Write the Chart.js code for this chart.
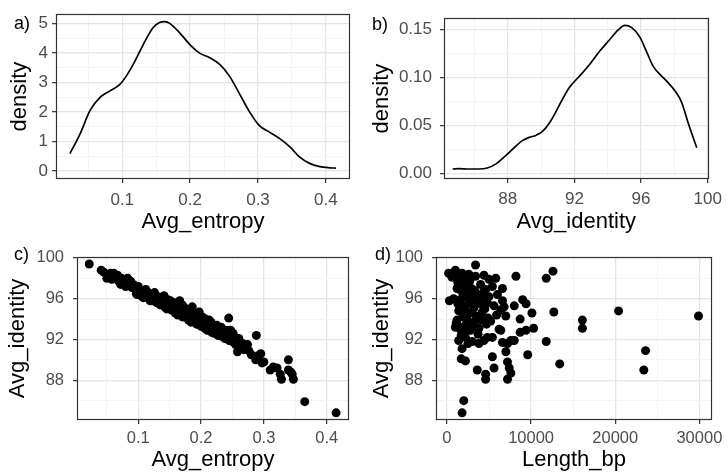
<!DOCTYPE html>
<html>
<head>
<meta charset="UTF-8">
<title>Avg entropy / identity</title>
<script src="https://cdn.jsdelivr.net/npm/chart.js"></script>
<style>
  body { margin: 0; background: #fff; }
  .janela { position: relative; width: 728px; height: 476px; background: #fff; }
  canvas { position: absolute; }
</style>
</head>
<body>
<div class="janela">
  <canvas id="painelA" width="364" height="238" style="left:0;top:0"></canvas>
  <canvas id="painelB" width="364" height="238" style="left:364px;top:0"></canvas>
  <canvas id="painelC" width="364" height="238" style="left:0;top:238px"></canvas>
  <canvas id="painelD" width="364" height="238" style="left:364px;top:238px"></canvas>
</div>
<script>
// a) densidade de Avg_entropy
const entropiaX = [0.023, 0.038, 0.0525, 0.067, 0.082, 0.0966, 0.106, 0.116, 0.126, 0.136, 0.1456, 0.155, 0.163,
  0.170, 0.185, 0.200, 0.214, 0.229, 0.244, 0.258, 0.273, 0.288, 0.302, 0.317, 0.332, 0.347, 0.361, 0.376, 0.391, 0.405, 0.415];
const entropiaDens = [0.59, 1.26, 2.05, 2.49, 2.72, 2.94, 3.22, 3.61, 4.06, 4.51, 4.87, 5.04, 5.07,
  5.01, 4.68, 4.28, 4.00, 3.84, 3.61, 3.22, 2.61, 1.99, 1.54, 1.32, 1.10, 0.82, 0.48, 0.26, 0.15, 0.11, 0.10];

// b) densidade de Avg_identity
const identX = [84.7, 85.07, 85.67, 86.27, 86.77, 87.28, 87.68, 88.08, 88.48, 88.88, 89.29, 89.69, 90.09, 90.49, 90.89,
  91.30, 91.70, 92.30, 92.90, 93.51, 94.11, 94.61, 95.02, 95.42, 95.92, 96.32, 96.72, 97.13, 97.53, 98.03, 98.43, 98.83, 99.34];
const identDens = [0.0044, 0.0048, 0.0044, 0.0044, 0.0054, 0.0095, 0.0153, 0.0214, 0.0282, 0.034, 0.0374, 0.0394, 0.0435, 0.052, 0.064,
  0.0776, 0.0894, 0.101, 0.113, 0.127, 0.139, 0.149, 0.154, 0.152, 0.142, 0.127, 0.1116, 0.103, 0.096, 0.086, 0.074, 0.052, 0.0265];

// c) Avg_entropy x Avg_identity
const cEntropia = [0.022, 0.041, 0.045, 0.050, 0.053, 0.056, 0.058, 0.061, 0.064, 0.067, 0.069, 0.072, 0.073, 0.075, 0.077,
  0.079, 0.080, 0.083, 0.085, 0.086, 0.088, 0.090, 0.092, 0.094, 0.097, 0.098, 0.100, 0.102, 0.104, 0.106, 0.108, 0.110,
  0.112, 0.114, 0.116, 0.117, 0.119, 0.121, 0.122, 0.124, 0.126, 0.128, 0.130, 0.131, 0.133, 0.135, 0.137, 0.139, 0.141,
  0.142, 0.143, 0.145, 0.147, 0.149, 0.151, 0.152, 0.154, 0.156, 0.157, 0.159, 0.160, 0.162, 0.163, 0.165, 0.166, 0.168,
  0.170, 0.171, 0.172, 0.174, 0.176, 0.178, 0.180, 0.181, 0.183, 0.184, 0.186, 0.187, 0.188, 0.190, 0.191, 0.193, 0.194,
  0.196, 0.197, 0.199, 0.200, 0.202, 0.203, 0.205, 0.206, 0.207, 0.209, 0.210, 0.212, 0.213, 0.215, 0.216, 0.217, 0.219,
  0.220, 0.221, 0.222, 0.224, 0.225, 0.227, 0.228, 0.230, 0.232, 0.233, 0.235, 0.237, 0.238, 0.240, 0.242, 0.244, 0.245,
  0.247, 0.248, 0.250, 0.251, 0.253, 0.255, 0.257, 0.258, 0.260, 0.262, 0.264, 0.266, 0.268, 0.271, 0.274, 0.276, 0.280,
  0.287, 0.288, 0.291, 0.295, 0.297, 0.300, 0.310, 0.315, 0.321, 0.326, 0.328, 0.339, 0.339, 0.343, 0.345, 0.347, 0.365, 0.415];
const cIdentidade = [99.4, 98.8, 98.6, 98.0, 98.3, 98.5, 97.9, 98.5, 98.1, 98.3, 97.7, 97.4, 98.0, 97.9, 97.5,
  97.8, 97.2, 98.0, 97.6, 97.3, 97.7, 97.1, 97.4, 97.0, 96.5, 96.4, 97.2, 96.8, 96.3, 96.7, 96.1, 96.5,
  96.9, 96.2, 96.6, 96.0, 95.8, 96.4, 95.8, 96.1, 96.6, 95.7, 95.6, 96.2, 96.1, 95.4, 95.9, 95.6, 96.3,
  95.2, 95.6, 95.0, 95.9, 95.4, 95.8, 94.9, 95.2, 95.6, 95.3, 94.6, 95.0, 95.6, 94.4, 95.0, 95.8, 94.7,
  95.4, 94.2, 94.7, 95.1, 94.4, 94.8, 93.9, 94.5, 94.8, 93.7, 95.2, 94.2, 94.6, 93.8, 94.3, 93.5, 94.4,
  93.9, 94.7, 93.8, 93.3, 94.2, 93.6, 93.9, 93.1, 94.0, 93.4, 92.9, 93.5, 93.9, 93.2, 93.7, 92.7, 93.1,
  93.4, 92.6, 93.0, 92.9, 93.4, 92.4, 92.8, 93.1, 93.2, 92.3, 92.7, 92.7, 92.1, 92.9, 92.4, 94.1, 91.9,
  92.9, 92.2, 91.8, 92.6, 92.2, 91.5, 91.9, 90.8, 92.1, 91.4, 91.6, 91.6, 91.0, 91.3, 91.5, 90.9, 90.5,
  90.0, 92.4, 90.4, 90.6, 89.7, 89.8, 89.0, 89.3, 89.2, 88.6, 88.1, 90.0, 89.0, 88.8, 88.6, 88.1, 85.9, 84.8];

// d) Length_bp x Avg_identity
const dTamanho = [200, 300, 500, 600, 800, 1000, 1000, 1100, 1200, 1300, 1400, 1400, 1400, 1500, 1600, 1600, 1600, 1700, 1700,
  1800, 1800, 1800, 1800, 1800, 1900, 1900, 2000, 2000, 2000, 2100, 2100, 2200, 2200, 2200, 2200, 2300, 2400, 2400, 2400,
  2500, 2600, 2600, 2700, 2800, 2800, 2900, 3000, 3000, 3100, 3200, 3200, 3300, 3400, 3400, 3500, 3500, 3600, 3600, 3700,
  3800, 3800, 3900, 4000, 4000, 4100, 4200, 4300, 4400, 4400, 4500, 4600, 4600, 4600, 4700, 4800, 4800, 4900, 5000, 5000,
  5200, 5400, 5400, 5400, 5600, 5600, 5800, 5900, 6000, 6200, 6400, 6400, 6600, 6600, 6600, 6800, 7000, 7000, 7200, 7200,
  7200, 7400, 7600, 7600, 8000, 8000, 8200, 8700, 8700, 9000, 9400, 9400, 9600, 10100, 10300, 11800, 11800, 12600, 12700,
  13400, 16100, 16100, 20400, 23600, 23400, 29900,
  1200, 1500, 2300, 2700, 3100, 3300, 3700, 4200, 2500, 1300];
const dIdentidade = [98.5, 95.8, 98.4, 98.1, 96.0, 98.8, 93.2, 93.6, 93.9, 97.6, 98.2, 94.8, 91.9, 96.9, 97.4, 95.9, 93.0, 92.4, 90.1,
  98.5, 95.3, 93.2, 91.1, 84.8, 96.3, 94.2, 96.7, 92.6, 86.0, 97.8, 95.0, 98.0, 95.3, 92.2, 89.9, 93.5, 97.2, 94.0, 96.1,
  91.6, 96.4, 98.4, 94.6, 95.8, 92.9, 97.0, 91.8, 95.5, 93.3, 95.1, 93.7, 96.8, 99.3, 98.2, 94.3, 96.0, 96.3, 89.0, 92.5,
  93.1, 91.6, 95.6, 97.4, 95.5, 93.9, 94.7, 96.6, 98.3, 91.9, 95.0, 96.9, 88.6, 88.1, 93.5, 95.6, 92.2, 94.1, 97.9, 96.2,
  93.8, 97.2, 92.2, 90.3, 95.3, 89.2, 98.0, 94.4, 96.4, 93.0, 94.9, 92.9, 97.0, 95.8, 91.7, 95.2, 94.3, 90.8, 91.6, 89.8,
  88.1, 89.2, 91.9, 88.7, 95.3, 91.9, 98.2, 94.0, 92.7, 95.9, 95.5, 92.9, 90.5, 94.6, 93.1, 98.0, 91.8, 98.7, 94.7,
  89.6, 93.9, 93.1, 94.8, 90.9, 89.0, 94.3,
  97.0, 95.2, 97.6, 97.7, 96.6, 95.6, 95.9, 96.0, 93.1, 95.5];

// ticks (principais e secundarios)
const ticksEntropia = [0.1, 0.2, 0.3, 0.4];
const ticksEntropiaMenor = [0.05, 0.15, 0.25, 0.35];
const ticksDensA = [0, 1, 2, 3, 4, 5];
const ticksDensAMenor = [0.5, 1.5, 2.5, 3.5, 4.5];
const ticksIdent = [88, 92, 96, 100];
const ticksIdentMenor = [86, 90, 94, 98];
const ticksDensB = [0, 0.05, 0.10, 0.15];
const ticksDensBMenor = [0.025, 0.075, 0.125];
const ticksTamanho = [0, 10000, 20000, 30000];
const ticksTamanhoMenor = [5000, 15000, 25000];

const fonte = "'Liberation Sans', Arial, sans-serif";

function pares(xs, ys) {
  return xs.map((x, i) => ({ x: x, y: ys[i] }));
}

function eixo(cfg) {
  const ehMaior = v => cfg.maiores.includes(v);
  return {
    type: 'linear',
    min: cfg.min,
    max: cfg.max,
    afterBuildTicks: s => {
      s.ticks = cfg.maiores.concat(cfg.menores).sort((a, b) => a - b).map(v => ({ value: v }));
    },
    afterFit: s => {
      if (s.isHorizontal()) s.height = cfg.tam; else s.width = cfg.tam;
    },
    ticks: {
      autoSkip: false, maxRotation: 0, minRotation: 0,
      padding: cfg.pad, color: '#4D4D4D',
      font: { family: fonte, size: cfg.fonteTick || 17 },
      callback: v => ehMaior(v) ? cfg.fmt(v) : ''
    },
    grid: {
      color: c => (c.tick && !ehMaior(c.tick.value)) ? '#F1F1F1' : '#E4E4E4',
      lineWidth: c => (c.tick && !ehMaior(c.tick.value)) ? 0.8 : 1.3,
      tickLength: 4,
      tickWidth: 1.2,
      tickColor: c => (c.tick && ehMaior(c.tick.value)) ? '#333333' : 'rgba(0,0,0,0)'
    },
    border: { display: false },
    title: {
      display: true, text: cfg.titulo, color: '#000',
      font: { family: fonte, size: 22 },
      padding: { top: cfg.padTit, bottom: cfg.padTit }
    }
  };
}

// borda do painel e letra do painel
const moldura = {
  id: 'moldura',
  afterDraw(chart, args, opts) {
    const a = chart.chartArea, ctx = chart.ctx;
    ctx.save();
    ctx.strokeStyle = '#333333';
    ctx.lineWidth = 1.2;
    ctx.strokeRect(Math.round(a.left) + 0.5, Math.round(a.top) + 0.5, Math.round(a.right - a.left) - 1, Math.round(a.bottom - a.top) - 1);
    ctx.fillStyle = '#000';
    ctx.font = '18px ' + fonte;
    ctx.textBaseline = 'middle';
    ctx.textAlign = 'left';
    ctx.fillText(opts.letra, opts.x, opts.y);
    ctx.restore();
  }
};

function painel(id, dataset, ex, ey, pad, letra) {
  return new Chart(document.getElementById(id), {
    type: 'scatter',
    data: { datasets: [dataset] },
    options: {
      responsive: false,
      animation: false,
      devicePixelRatio: 1,
      layout: { padding: { top: pad.top, right: pad.right, left: 0, bottom: 0 } },
      plugins: { legend: { display: false }, tooltip: { enabled: false }, moldura: letra },
      scales: { x: eixo(ex), y: eixo(ey) }
    },
    plugins: [moldura]
  });
}

const linha = (xs, ys) => ({
  data: pares(xs, ys), showLine: true, pointRadius: 0, borderColor: '#000', borderWidth: 1.7,
  cubicInterpolationMode: 'monotone', fill: false
});
const pontos = (xs, ys) => ({
  data: pares(xs, ys), pointRadius: 4.5, pointBackgroundColor: '#000', pointBorderWidth: 0, borderColor: '#000'
});

painel('painelA', linha(entropiaX, entropiaDens),
  { min: 0.0025, max: 0.4355, maiores: ticksEntropia, menores: ticksEntropiaMenor, fmt: v => v.toFixed(1), tam: 59, pad: 7, padTit: 3, titulo: 'Avg_entropy' },
  { min: -0.27, max: 5.32, maiores: ticksDensA, menores: ticksDensAMenor, fmt: v => String(v), tam: 56, pad: 4, padTit: 7, titulo: 'density' },
  { top: 13, right: 14 }, { letra: 'a)', x: 14, y: 24 });

painel('painelB', linha(identX, identDens),
  { min: 84.18, max: 100.05, maiores: ticksIdent, menores: ticksIdentMenor, fmt: v => String(v), tam: 59, pad: 6, padTit: 3, titulo: 'Avg_identity' },
  { min: -0.006, max: 0.1615, maiores: ticksDensB, menores: ticksDensBMenor, fmt: v => v.toFixed(2), tam: 80, pad: 8, padTit: 5, titulo: 'density' },
  { top: 13, right: 15 }, { letra: 'b)', x: 8, y: 25 });

painel('painelC', pontos(cEntropia, cIdentidade),
  { min: 0.0025, max: 0.4355, maiores: ticksEntropia, menores: ticksEntropiaMenor, fmt: v => v.toFixed(1), tam: 56, pad: 5, padTit: 3, titulo: 'Avg_entropy', fonteTick: 16.5 },
  { min: 84.1, max: 100.1, maiores: ticksIdent, menores: ticksIdentMenor, fmt: v => String(v), tam: 77, pad: 9, padTit: 5, titulo: 'Avg_identity', fonteTick: 16.5 },
  { top: 15, right: 15 }, { letra: 'c)', x: 14, y: 17 });

painel('painelD', pontos(dTamanho, dIdentidade),
  { min: -1300, max: 31500, maiores: ticksTamanho, menores: ticksTamanhoMenor, fmt: v => String(v), tam: 56, pad: 5, padTit: 3, titulo: 'Length_bp', fonteTick: 16.5 },
  { min: 84.1, max: 100.1, maiores: ticksIdent, menores: ticksIdentMenor, fmt: v => String(v), tam: 72, pad: 9, padTit: 5, titulo: 'Avg_identity', fonteTick: 16.5 },
  { top: 15, right: 15 }, { letra: 'd)', x: 11, y: 17 });
</script>
</body>
</html>
